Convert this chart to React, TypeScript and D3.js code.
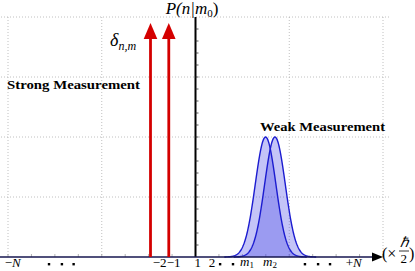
import React from 'react'
import * as d3 from 'd3'

// schematic axis units: -N..+N mapped to -8..8, probability 0..20
const xDomain = [-8, 8]
const yDomain = [0, 20]
const gridX = [-8, -4, 0, 4, 8]
const gridY = [5, 10, 15, 20]

// strong measurement: delta spikes
const spikeX = [-1.92, -1.14]
const spikeTop = [19.5, 19.5]

// weak measurement: two gaussians (centre, width, peak)
const gaussCenter = [2.99, 3.39]
const gaussSigma = [0.44, 0.44]
const gaussPeak = [10, 10]

// tick labels under the x axis
const tickText = ['−N', '−2', '−1', '1', '2', '+N']
const tickPos = [-7.8, -1.53, -0.93, 0.1, 0.7, 6.75]
const mLabels = ['1', '2']
const mPos = [2.2, 3.18]
const dotPos = [-6.25, -5.7, -5.2, 1.05, 1.6, 4.67, 5.23, 5.74]

const W = 415
const H = 271
const SERIF = '"Liberation Serif", "Times New Roman", serif'

export default function App() {
  const x = d3.scaleLinear().domain(xDomain).range([8, 383])
  const y = d3.scaleLinear().domain(yDomain).range([257, 17])

  const minorX = d3.range(xDomain[0], xDomain[1] + 1, 1)
  const minorY = d3.range(1, yDomain[1], 1)

  const gaussPaths = gaussCenter.map((c, i) => {
    const s = gaussSigma[i]
    const xs = d3.range(c - 4 * s, c + 4 * s + 0.001, s / 20)
    const fy = (v: number) => y(gaussPeak[i] * Math.exp(-((v - c) ** 2) / (2 * s * s)))
    const area = d3.area<number>().x((v) => x(v)).y0(y(0)).y1(fy)
    const line = d3.line<number>().x((v) => x(v)).y(fy)
    return { area: area(xs) || '', line: line(xs) || '' }
  })

  const axisY = y(0)
  const red = '#d40000'
  const labelY = 267

  return (
    <svg
      width={W}
      height={H}
      style={{ position: 'absolute', left: 0, top: 0, background: '#fff', fontFamily: SERIF }}
    >
      {/* dotted grid */}
      <g stroke="#b0b0b0" strokeWidth={0.8} strokeDasharray="1,2">
        {gridX.map((g) => (
          <line key={'gx' + g} x1={x(g)} x2={x(g)} y1={y(20)} y2={axisY} />
        ))}
        {gridY.map((g) => (
          <line key={'gy' + g} x1={1} x2={390} y1={y(g)} y2={y(g)} />
        ))}
      </g>

      {/* minor ticks on x axis */}
      <g stroke="#a0a0a0" strokeWidth={0.8}>
        {minorX.map((t) => (
          <line key={'mx' + t} x1={x(t)} x2={x(t)} y1={axisY - 3} y2={axisY} />
        ))}
      </g>

      {/* gaussians */}
      {gaussPaths.map((p, i) => (
        <path key={'ga' + i} d={p.area} fill="rgb(60,60,230)" fillOpacity={0.3} />
      ))}
      {gaussPaths.map((p, i) => (
        <path key={'gl' + i} d={p.line} fill="none" stroke="#1c1cd0" strokeWidth={1.4} />
      ))}

      {/* y axis */}
      <line x1={x(0)} x2={x(0)} y1={y(20)} y2={axisY} stroke="#000" strokeWidth={2} />
      <g stroke="#333" strokeWidth={0.8}>
        {minorY.map((t) => (
          <line key={'my' + t} x1={x(0)} x2={x(0) + 3} y1={y(t)} y2={y(t)} />
        ))}
      </g>

      {/* x axis with arrow */}
      <line x1={0} x2={374} y1={axisY} y2={axisY} stroke="#16164f" strokeWidth={1.6} />
      <path d={`M372,${axisY - 4.5} L383,${axisY} L372,${axisY + 4.5} Z`} fill="#000" />

      {/* delta spikes */}
      {spikeX.map((s, i) => {
        const px = x(s)
        const top = y(spikeTop[i])
        return (
          <g key={'sp' + i}>
            <line x1={px} x2={px} y1={top + 12} y2={axisY} stroke={red} strokeWidth={2.8} />
            <path d={`M${px},${top} L${px + 6.8},${top + 16} L${px - 6.8},${top + 16} Z`} fill={red} />
          </g>
        )
      })}

      {/* labels */}
      <text x={192} y={14} fontSize={17} textAnchor="middle" fontStyle="italic">
        P(n|m<tspan fontStyle="normal" fontSize={11} dy={3}>0</tspan>
        <tspan fontStyle="normal" dy={-3}>)</tspan>
      </text>
      <text x={110} y={46} fontSize={18} fontStyle="italic">
        δ<tspan fontSize={12} dy={4}>n,m</tspan>
      </text>
      <text x={7} y={89} fontSize={13} fontWeight="bold" textLength={133} lengthAdjust="spacingAndGlyphs">
        Strong Measurement
      </text>
      <text x={260} y={131} fontSize={13} fontWeight="bold" textLength={125} lengthAdjust="spacingAndGlyphs">
        Weak Measurement
      </text>

      {/* tick labels */}
      <g fontSize={13} textAnchor="middle">
        {tickText.map((t, i) => (
          <text key={'tt' + i} x={x(tickPos[i])} y={labelY}>
            {t.includes('N') ? (
              <>
                {t[0]}
                <tspan fontStyle="italic">N</tspan>
              </>
            ) : (
              t
            )}
          </text>
        ))}
        {mLabels.map((m, i) => (
          <text key={'mm' + i} x={x(mPos[i])} y={labelY - 1} fontStyle="italic">
            m<tspan fontStyle="normal" fontSize={9} dy={2}>{m}</tspan>
          </text>
        ))}
      </g>
      {dotPos.map((d, i) => (
        <rect key={'dt' + i} x={x(d) - 1.2} y={263} width={2.4} height={2.4} fill="#000" />
      ))}

      {/* unit */}
      <g fontSize={16}>
        <text x={382} y={259}>(×</text>
        <text x={400} y={247} fontStyle="italic" fontSize={14}>ℏ</text>
        <line x1={399} x2={409} y1={251} y2={251} stroke="#000" strokeWidth={0.8} />
        <text x={400.5} y={263} fontSize={13}>2</text>
        <text x={409} y={259}>)</text>
      </g>
    </svg>
  )
}
